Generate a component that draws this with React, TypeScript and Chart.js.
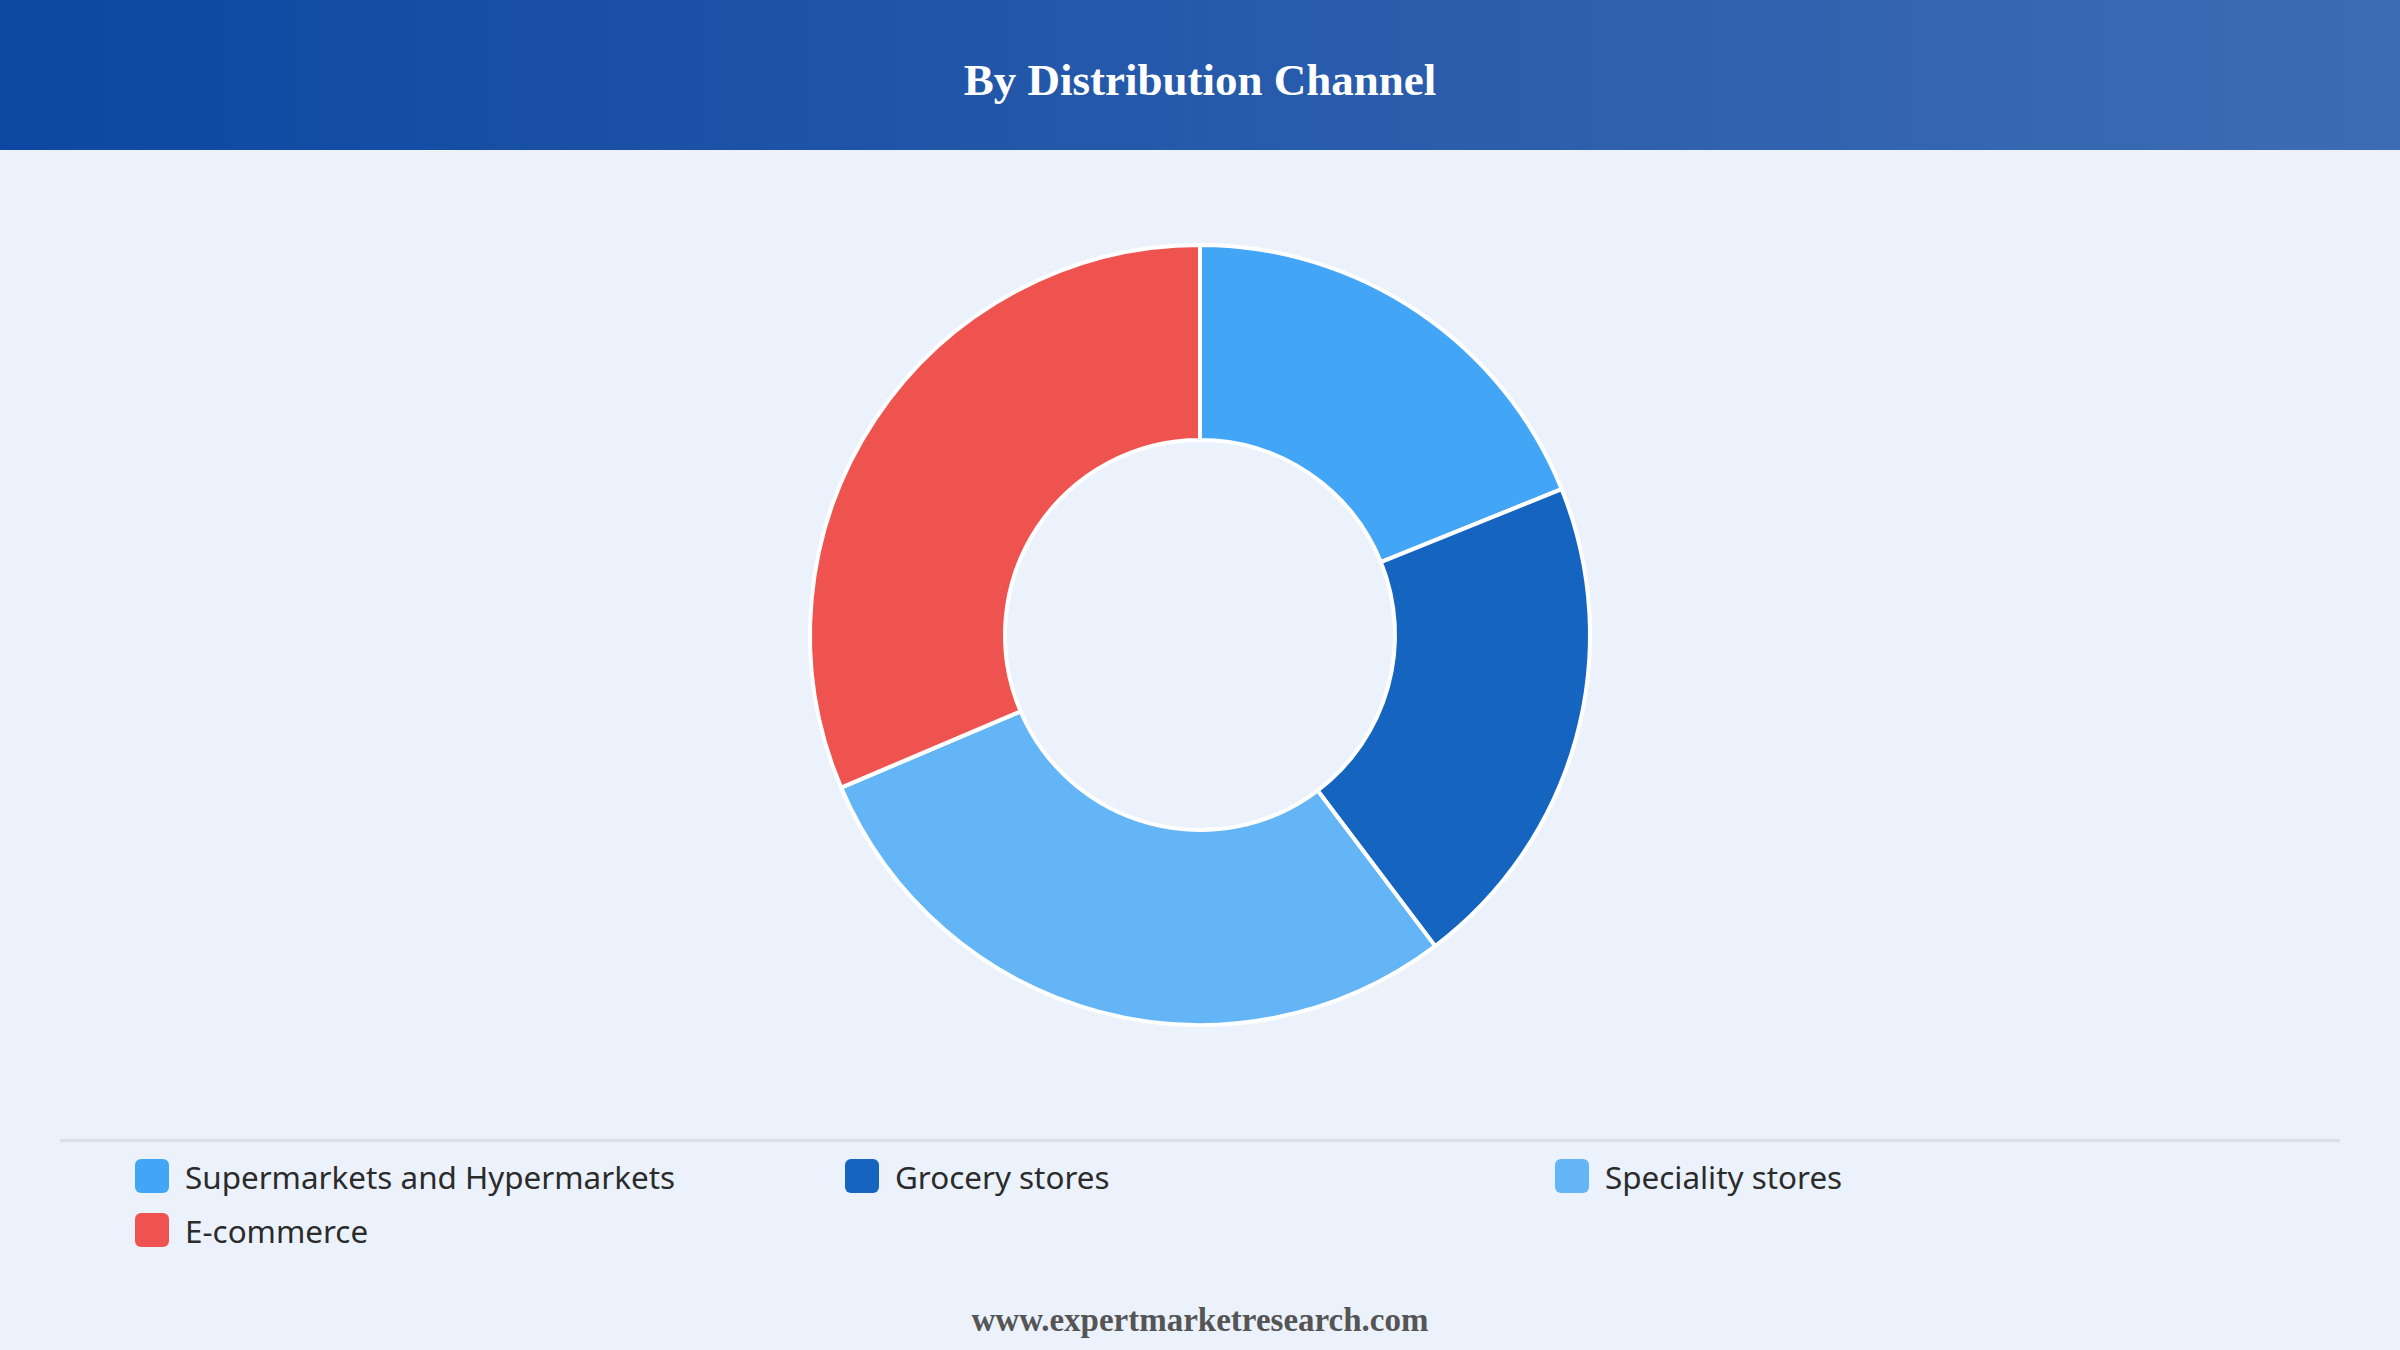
import React, { useEffect, useRef } from "react";
import { Chart, registerables } from "chart.js";

Chart.register(...registerables);

const title = "By Distribution Channel";
const footer = "www.expertmarketresearch.com";
const categories = ["Supermarkets and Hypermarkets", "Grocery stores", "Speciality stores", "E-commerce"];
const shares = [18.9, 20.8, 28.9, 31.4];
const colors = ["#42A5F5", "#1565C0", "#64B5F6", "#EF5350"];

export default function App() {
  const canvasRef = useRef<HTMLCanvasElement | null>(null);

  useEffect(() => {
    if (!canvasRef.current) return;
    const chart = new Chart(canvasRef.current, {
      type: "doughnut",
      data: {
        labels: categories,
        datasets: [
          {
            data: shares,
            backgroundColor: colors,
            borderColor: "#ffffff",
            borderWidth: 4,
          },
        ],
      },
      options: {
        responsive: false,
        maintainAspectRatio: false,
        animation: false,
        cutout: "50%",
        layout: { padding: 0 },
        plugins: {
          legend: { display: false },
          title: { display: false },
          tooltip: { enabled: false },
        },
      },
    });
    return () => chart.destroy();
  }, []);

  return (
    <div
      style={{
        position: "absolute",
        left: 0,
        top: 0,
        width: 2400,
        height: 1350,
        background: "#ebf2fc",
        overflow: "hidden",
      }}
    >
      <div
        style={{
          position: "absolute",
          left: 0,
          top: 0,
          width: 2400,
          height: 150,
          background: "linear-gradient(90deg, #0d47a1 0%, #3e6cb4 100%)",
          display: "flex",
          alignItems: "center",
          justifyContent: "center",
        }}
      >
        <span
          style={{
            fontFamily: "'Liberation Serif', 'Times New Roman', serif",
            fontWeight: 700,
            fontSize: 45,
            color: "#ffffff",
            marginTop: 10,
          }}
        >
          {title}
        </span>
      </div>
      <canvas
        ref={canvasRef}
        width={2400}
        height={784}
        style={{ position: "absolute", left: 0, top: 243, width: 2400, height: 784 }}
      />
      <div
        style={{
          position: "absolute",
          left: 60,
          top: 1139,
          width: 2280,
          height: 3,
          background: "#dcdfe4",
        }}
      />
      {categories.map((c, i) => {
        const col = i % 3;
        const row = Math.floor(i / 3);
        return (
          <div
            key={c}
            style={{
              position: "absolute",
              left: 135 + col * 710,
              top: 1159 + row * 54,
              height: 34,
              display: "flex",
              alignItems: "center",
            }}
          >
            <div
              style={{
                width: 34,
                height: 34,
                borderRadius: 6,
                background: colors[i],
                marginRight: 16,
              }}
            />
            <span
              style={{
                fontFamily: "'Noto Sans', 'Open Sans', sans-serif",
                fontSize: 31.4,
                color: "#2b2b2b",
                whiteSpace: "nowrap",
              }}
            >
              {c}
            </span>
          </div>
        );
      })}
      <div
        style={{
          position: "absolute",
          left: 0,
          top: 1298,
          width: 2400,
          height: 44,
          display: "flex",
          alignItems: "center",
          justifyContent: "center",
          fontFamily: "'Liberation Serif', 'Times New Roman', serif",
          fontWeight: 700,
          fontSize: 33,
          color: "#555555",
        }}
      >
        {footer}
      </div>
    </div>
  );
}
